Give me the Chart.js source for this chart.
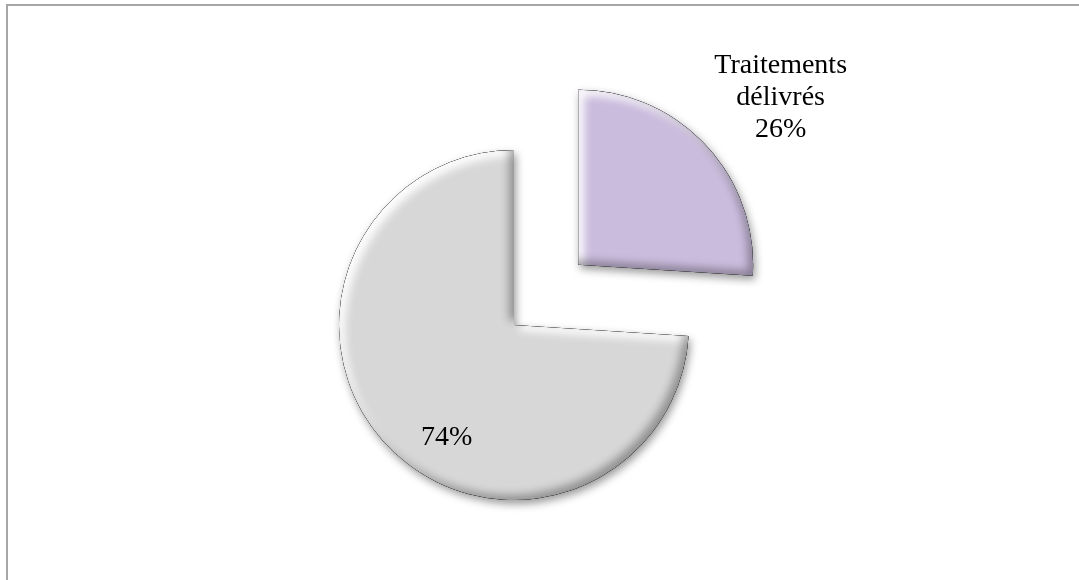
<!DOCTYPE html>
<html><head><meta charset="utf-8">
<script src="https://cdn.jsdelivr.net/npm/chart.js@4.4.1/dist/chart.umd.min.js"></script>
<style>html,body{margin:0;padding:0;background:#fff}#wrap{width:1079px;height:580px;position:relative}</style>
</head><body><div id="wrap"><canvas id="c"></canvas></div>
<script>
// ---- data ----
const categories = ['Traitements délivrés', ''];
const values = [26, 74];
// ---- style ----
const sliceColors = ['#CABCDD', '#D7D7D7'];
const explode = [352, 0];
const labelDist = [2.01, 0.74];      // relative to radius, from pie centre
const labelAngleShift = [2.5, -15.5]; // degrees from slice mid-angle
const FONT = '28px "Liberation Serif", "Times New Roman", serif';

function slicePath(ctx, el, tx, ty) {
  const p = el.getProps(['x','y','startAngle','endAngle','outerRadius'], true);
  ctx.beginPath();
  ctx.moveTo(p.x + tx, p.y + ty);
  ctx.arc(p.x + tx, p.y + ty, p.outerRadius, p.startAngle, p.endAngle);
  ctx.closePath();
}
function innerShadow(ctx, el, tx, ty, color, ox, oy, blur) {
  ctx.save();
  slicePath(ctx, el, tx, ty); ctx.clip();
  ctx.beginPath();
  ctx.rect(-5000, -5000, 10000, 10000);
  const p = el.getProps(['x','y','startAngle','endAngle','outerRadius'], true);
  ctx.moveTo(p.x + tx, p.y + ty);
  ctx.arc(p.x + tx, p.y + ty, p.outerRadius, p.startAngle, p.endAngle);
  ctx.closePath();
  ctx.shadowColor = color; ctx.shadowBlur = blur;
  ctx.shadowOffsetX = ox; ctx.shadowOffsetY = oy;
  ctx.fillStyle = '#000';
  ctx.fill('evenodd');
  ctx.restore();
}

const decor = {
  id: 'decor',
  beforeDraw(chart) {
    const ctx = chart.ctx;
    ctx.save();
    ctx.strokeStyle = '#A6A6A6'; ctx.lineWidth = 2;
    ctx.strokeRect(7, 5, chart.width + 20, chart.height + 20);
    ctx.restore();
  },
  beforeDatasetsDraw(chart) {
    const ctx = chart.ctx;
    ctx.save();
    ctx.shadowColor = 'rgba(0,0,0,0.4)';
    ctx.shadowBlur = 9; ctx.shadowOffsetX = 2; ctx.shadowOffsetY = 4;
  },
  afterDatasetsDraw(chart) {
    const ctx = chart.ctx;
    ctx.restore();
    const meta = chart.getDatasetMeta(0);
    const total = values.reduce((a, b) => a + b, 0);
    meta.data.forEach((el, i) => {
      const p = el.getProps(['x','y','startAngle','endAngle','outerRadius'], true);
      const mid = (p.startAngle + p.endAngle) / 2;
      const off = (el.options.offset || 0) / 4;
      const tx = Math.cos(mid) * off, ty = Math.sin(mid) * off;
      innerShadow(ctx, el, tx, ty, 'rgba(255,255,255,0.95)', 6, 6, 8);
      innerShadow(ctx, el, tx, ty, 'rgba(0,0,0,0.32)', -5, -5, 8);
      // label
      const a = mid + labelAngleShift[i] * Math.PI / 180;
      const lx = p.x + Math.cos(a) * p.outerRadius * labelDist[i];
      const ly = p.y + Math.sin(a) * p.outerRadius * labelDist[i];
      const lines = [];
      if (categories[i]) lines.push(...categories[i].split(' '));
      lines.push(Math.round(values[i] / total * 100) + '%');
      ctx.save();
      ctx.font = FONT; ctx.fillStyle = '#000';
      ctx.textAlign = 'center'; ctx.textBaseline = 'middle';
      const lh = 32;
      lines.forEach((t, k) => ctx.fillText(t, lx, ly + 2 + (k - (lines.length - 1) / 2) * lh));
      ctx.restore();
    });
  }
};

new Chart(document.getElementById('c'), {
  type: 'pie',
  data: {
    labels: categories,
    datasets: [{
      data: values,
      backgroundColor: sliceColors,
      borderWidth: 0,
      offset: explode
    }]
  },
  options: {
    responsive: true,
    maintainAspectRatio: false,
    animation: false,
    radius: 175,
    layout: { padding: { left: 0, right: 51, top: 70, bottom: 0 } },
    plugins: { legend: { display: false }, tooltip: { enabled: false } }
  },
  plugins: [decor]
});
</script>
</body></html>
